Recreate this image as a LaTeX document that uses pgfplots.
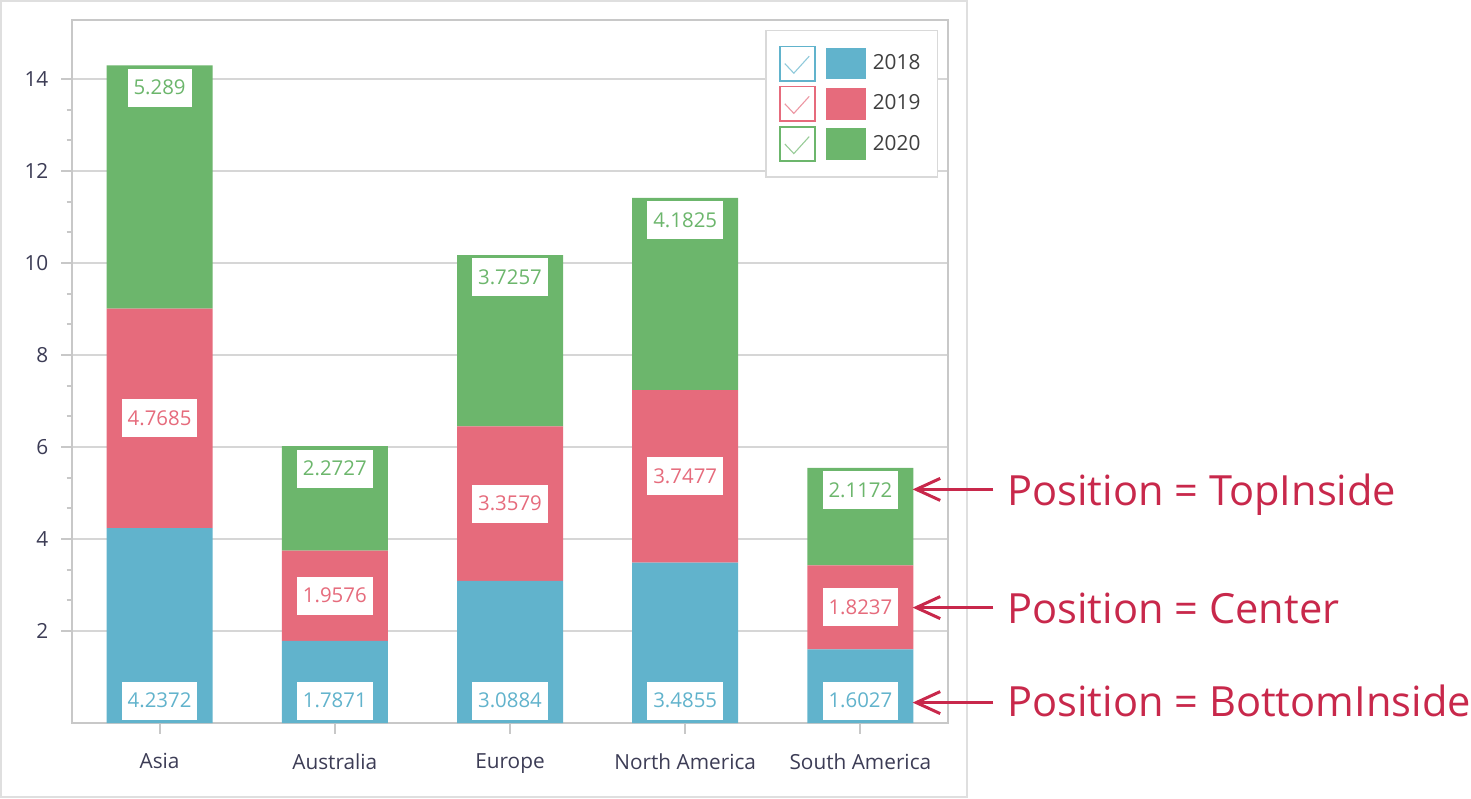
\documentclass[border=0pt]{standalone}
\usepackage{fontspec}
\setmainfont{Open Sans}
\usepackage{pgfplots}
\pgfplotsset{compat=1.18}
\usepackage{pgfplotstable}
\usetikzlibrary{arrows.meta}

\definecolor{c18}{RGB}{97,179,204}
\definecolor{c19}{RGB}{230,107,124}
\definecolor{c20}{RGB}{108,182,108}
\definecolor{gridgray}{RGB}{214,214,214}
\definecolor{axisgray}{RGB}{200,200,200}
\definecolor{ticktext}{RGB}{60,60,85}
\definecolor{legtext}{RGB}{64,64,64}
\definecolor{note}{RGB}{200,40,75}

% sales by region, one column per year
\pgfplotstableread{
x a b c
0 4.2372 4.7685 5.289
1 1.7871 1.9576 2.2727
2 3.0884 3.3579 3.7257
3 3.4855 3.7477 4.1825
4 1.6027 1.8237 2.1172
}\data

\tikzset{lbl/.style={font=\fontsize{10.2}{12}\selectfont, fill=white, inner xsep=3pt, inner ysep=0pt, minimum height=19pt}}
\pgfplotsset{
  chart/.style={scale only axis, width=438pt, height=351.5pt,
    xmin=-0.5, xmax=4.5, ymin=0, ymax=15.28, at={(0pt,0pt)}, anchor=south west},
}
\newcommand{\legimg}[1]{%
  \draw[draw=#1, line width=0.8pt, fill=white] (0pt,-8.6pt) rectangle (17.6pt,8.6pt);
  \draw[draw=#1!70!white, fill=none, line width=0.55pt] (2.5pt,0pt) -- (7pt,-4.8pt) -- (14.7pt,3.7pt);
  \fill[fill=#1] (23pt,-7.9pt) rectangle (43pt,7.9pt);}

\begin{document}
\begin{tikzpicture}
\useasboundingbox (-36pt,-37.5pt) rectangle (699.5pt,361.5pt);
\draw[gray!25, line width=0.75pt] (-35.6pt,-37pt) rectangle (447.5pt,361.1pt);

\begin{axis}[chart, ybar stacked, bar width=53pt,
  axis line style={axisgray, line width=1pt},
  xtick={0,...,4}, xticklabels={Asia,Australia,Europe,North America,South America},
  ytick={2,4,...,14}, minor y tick num=2,
  tick pos=left, tick align=outside,
  major tick length=5.3pt, minor tick length=2.7pt,
  every tick/.style={axisgray, line width=1pt},
  ymajorgrids, major grid style={gridgray, line width=0.8pt},
  tick label style={font=\fontsize{10.4}{12}\selectfont, text=ticktext},
  xticklabel style={yshift=-6.5pt},
  yticklabel style={xshift=-3pt},
  /pgf/number format/assume math mode=true,
  legend cell align=left,
  legend style={at={(rel axis cs:1,1)}, anchor=north east, xshift=-5pt, yshift=-5pt,
    draw=gray!30, line width=0.6pt, fill=white, inner xsep=6.5pt, inner ysep=7.5pt,
    row sep=2.1pt, font=\fontsize{10.4}{12}\selectfont, text=legtext,
    /tikz/every odd column/.style={column sep=1.5pt}},
]
\addplot[fill=c18, draw=none, legend image code/.code={\legimg{c18}}] table[x=x, y=a] {\data};
\addlegendentry{2018}
\addplot[fill=c19, draw=none, legend image code/.code={\legimg{c19}}] table[x=x, y=b] {\data};
\addlegendentry{2019}
\addplot[fill=c20, draw=none, legend image code/.code={\legimg{c20}}] table[x=x, y=c] {\data};
\addlegendentry{2020}
\end{axis}

% value labels: bottom inside, center, top inside
\begin{axis}[chart, hide axis, clip=false]
\addplot[draw=none, mark=none, nodes near coords, point meta=explicit symbolic,
  nodes near coords style={lbl, text=c18, anchor=south, yshift=1.5pt}]
  table[x=x, y expr=0, meta=a] {\data};
\addplot[draw=none, mark=none, nodes near coords, point meta=explicit symbolic,
  nodes near coords style={lbl, text=c19, anchor=center}]
  table[x=x, y expr=\thisrow{a}+0.5*\thisrow{b}, meta=b] {\data};
\addplot[draw=none, mark=none, nodes near coords, point meta=explicit symbolic,
  nodes near coords style={lbl, text=c20, anchor=north, yshift=-1.5pt}]
  table[x=x, y expr=\thisrow{a}+\thisrow{b}+\thisrow{c}, meta=c] {\data};
\end{axis}

\begin{scope}[note, line width=1.5pt]
\draw[-{Straight Barb[length=12pt, width=11pt]}] (460.7pt,116.8pt) -- (420.3pt,116.8pt);
\draw[-{Straight Barb[length=12pt, width=11pt]}] (460.7pt,57.7pt) -- (420.3pt,57.7pt);
\draw[-{Straight Barb[length=12pt, width=11pt]}] (460.7pt,10.2pt) -- (420.3pt,10.2pt);
\end{scope}
\begin{scope}[every node/.style={anchor=base west, inner sep=0pt, text=note, font=\fontsize{20.8}{25}\selectfont}]
\node at (467.5pt,109pt) {Position = TopInside};
\node at (467.5pt,49.8pt) {Position = Center};
\node at (467.5pt,3.2pt) {Position = BottomInside};
\end{scope}
\end{tikzpicture}
\end{document}
